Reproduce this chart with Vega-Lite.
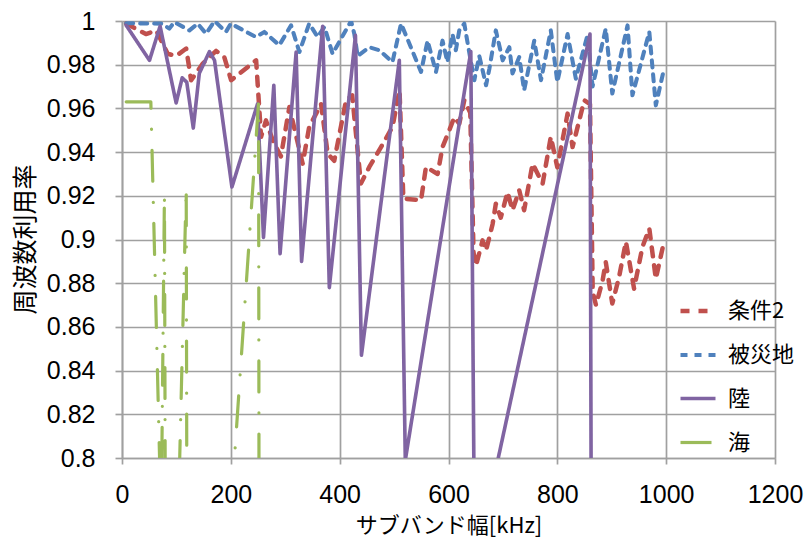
{
  "$schema": "https://vega.github.io/schema/vega-lite/v6.json",
  "width": 653,
  "height": 437,
  "autosize": "none",
  "padding": {"left": 122, "top": 21, "right": 31, "bottom": 87},
  "background": "white",
  "config": {
    "view": {"stroke": null},
    "font": "Liberation Sans Narrow, Liberation Sans, sans-serif"
  },
  "datasets": {
    "d": [
      {"s": "条件2", "i": 1, "x": 7.7, "y": 0.9988},
      {"s": "条件2", "i": 2, "x": 44, "y": 0.994},
      {"s": "条件2", "i": 3, "x": 62.8, "y": 0.9957},
      {"s": "条件2", "i": 4, "x": 84, "y": 0.985},
      {"s": "条件2", "i": 5, "x": 99.5, "y": 0.984},
      {"s": "条件2", "i": 6, "x": 118, "y": 0.9874},
      {"s": "条件2", "i": 7, "x": 127, "y": 0.9729},
      {"s": "条件2", "i": 8, "x": 148.4, "y": 0.9805},
      {"s": "条件2", "i": 9, "x": 173, "y": 0.9863},
      {"s": "条件2", "i": 10, "x": 188, "y": 0.9835},
      {"s": "条件2", "i": 11, "x": 200.5, "y": 0.9729},
      {"s": "条件2", "i": 12, "x": 246.5, "y": 0.982},
      {"s": "条件2", "i": 13, "x": 255.6, "y": 0.947},
      {"s": "条件2", "i": 14, "x": 264.6, "y": 0.9545},
      {"s": "条件2", "i": 15, "x": 277, "y": 0.9454},
      {"s": "条件2", "i": 16, "x": 292, "y": 0.938},
      {"s": "条件2", "i": 17, "x": 307.6, "y": 0.9606},
      {"s": "条件2", "i": 18, "x": 332, "y": 0.9347},
      {"s": "条件2", "i": 19, "x": 344, "y": 0.9515},
      {"s": "条件2", "i": 20, "x": 365.8, "y": 0.962},
      {"s": "条件2", "i": 21, "x": 378, "y": 0.9393},
      {"s": "条件2", "i": 22, "x": 390, "y": 0.936},
      {"s": "条件2", "i": 23, "x": 411.8, "y": 0.9637},
      {"s": "条件2", "i": 24, "x": 423, "y": 0.966},
      {"s": "条件2", "i": 25, "x": 439, "y": 0.9256},
      {"s": "条件2", "i": 26, "x": 454.5, "y": 0.9332},
      {"s": "条件2", "i": 27, "x": 476, "y": 0.9423},
      {"s": "条件2", "i": 28, "x": 497, "y": 0.9515},
      {"s": "条件2", "i": 29, "x": 510, "y": 0.9683},
      {"s": "条件2", "i": 30, "x": 517, "y": 0.9187},
      {"s": "条件2", "i": 31, "x": 549.5, "y": 0.918},
      {"s": "条件2", "i": 32, "x": 558.6, "y": 0.9332},
      {"s": "条件2", "i": 33, "x": 580, "y": 0.93},
      {"s": "条件2", "i": 34, "x": 589, "y": 0.9423},
      {"s": "条件2", "i": 35, "x": 601.5, "y": 0.95},
      {"s": "条件2", "i": 36, "x": 610.7, "y": 0.956},
      {"s": "条件2", "i": 37, "x": 619.8, "y": 0.953},
      {"s": "条件2", "i": 38, "x": 629, "y": 0.9637},
      {"s": "条件2", "i": 39, "x": 640, "y": 0.958},
      {"s": "条件2", "i": 40, "x": 646, "y": 0.894},
      {"s": "条件2", "i": 41, "x": 650.5, "y": 0.888},
      {"s": "条件2", "i": 42, "x": 662.6, "y": 0.8996},
      {"s": "条件2", "i": 43, "x": 669, "y": 0.895},
      {"s": "条件2", "i": 44, "x": 681, "y": 0.907},
      {"s": "条件2", "i": 45, "x": 687, "y": 0.9164},
      {"s": "条件2", "i": 46, "x": 696, "y": 0.91},
      {"s": "条件2", "i": 47, "x": 708.5, "y": 0.9217},
      {"s": "条件2", "i": 48, "x": 717.6, "y": 0.9134},
      {"s": "条件2", "i": 49, "x": 730, "y": 0.9225},
      {"s": "条件2", "i": 50, "x": 739, "y": 0.9134},
      {"s": "条件2", "i": 51, "x": 754.5, "y": 0.9347},
      {"s": "条件2", "i": 52, "x": 773, "y": 0.9256},
      {"s": "条件2", "i": 53, "x": 788, "y": 0.947},
      {"s": "条件2", "i": 54, "x": 800, "y": 0.933},
      {"s": "条件2", "i": 55, "x": 818.8, "y": 0.9576},
      {"s": "条件2", "i": 56, "x": 828, "y": 0.9423},
      {"s": "条件2", "i": 57, "x": 849.5, "y": 0.9637},
      {"s": "条件2", "i": 58, "x": 860, "y": 0.962},
      {"s": "条件2", "i": 59, "x": 865, "y": 0.876},
      {"s": "条件2", "i": 60, "x": 871, "y": 0.87},
      {"s": "条件2", "i": 61, "x": 883, "y": 0.881},
      {"s": "条件2", "i": 62, "x": 889, "y": 0.8897},
      {"s": "条件2", "i": 63, "x": 901, "y": 0.8707},
      {"s": "条件2", "i": 64, "x": 913.5, "y": 0.8829},
      {"s": "条件2", "i": 65, "x": 926, "y": 0.899},
      {"s": "条件2", "i": 66, "x": 941, "y": 0.8775},
      {"s": "条件2", "i": 67, "x": 956.4, "y": 0.8966},
      {"s": "条件2", "i": 68, "x": 969, "y": 0.905},
      {"s": "条件2", "i": 69, "x": 981, "y": 0.882},
      {"s": "条件2", "i": 70, "x": 996, "y": 0.899},

      {"s": "被災地", "i": 1, "x": 7.7, "y": 0.999},
      {"s": "被災地", "i": 2, "x": 74, "y": 0.9988},
      {"s": "被災地", "i": 3, "x": 87, "y": 0.9965},
      {"s": "被災地", "i": 4, "x": 96, "y": 0.9995},
      {"s": "被災地", "i": 5, "x": 124, "y": 0.9957},
      {"s": "被災地", "i": 6, "x": 139, "y": 0.9988},
      {"s": "被災地", "i": 7, "x": 154.6, "y": 0.9942},
      {"s": "被災地", "i": 8, "x": 170, "y": 1.0},
      {"s": "被災地", "i": 9, "x": 191, "y": 0.995},
      {"s": "被災地", "i": 10, "x": 200, "y": 0.9988},
      {"s": "被災地", "i": 11, "x": 246, "y": 0.9927},
      {"s": "被災地", "i": 12, "x": 261.6, "y": 0.995},
      {"s": "被災地", "i": 13, "x": 289, "y": 0.9889},
      {"s": "被災地", "i": 14, "x": 310.7, "y": 0.998},
      {"s": "被災地", "i": 15, "x": 326, "y": 0.9858},
      {"s": "被災地", "i": 16, "x": 344, "y": 0.9988},
      {"s": "被災地", "i": 17, "x": 359.6, "y": 0.9927},
      {"s": "被災地", "i": 18, "x": 372, "y": 0.9973},
      {"s": "被災地", "i": 19, "x": 387, "y": 0.985},
      {"s": "被災地", "i": 20, "x": 421, "y": 1.0},
      {"s": "被災地", "i": 21, "x": 427, "y": 0.994},
      {"s": "被災地", "i": 22, "x": 433, "y": 0.984},
      {"s": "被災地", "i": 23, "x": 454.5, "y": 0.988},
      {"s": "被災地", "i": 24, "x": 473, "y": 0.9866},
      {"s": "被災地", "i": 25, "x": 497, "y": 0.9812},
      {"s": "被災地", "i": 26, "x": 512.8, "y": 0.9988},
      {"s": "被災地", "i": 27, "x": 528, "y": 0.9897},
      {"s": "被災地", "i": 28, "x": 549.5, "y": 0.9767},
      {"s": "被災地", "i": 29, "x": 561.6, "y": 0.991},
      {"s": "被災地", "i": 30, "x": 577, "y": 0.9767},
      {"s": "被災地", "i": 31, "x": 589, "y": 0.991},
      {"s": "被災地", "i": 32, "x": 598, "y": 0.9812},
      {"s": "被災地", "i": 33, "x": 607.5, "y": 0.994},
      {"s": "被災地", "i": 34, "x": 613.5, "y": 0.9866},
      {"s": "被災地", "i": 35, "x": 619.8, "y": 0.9957},
      {"s": "被災地", "i": 36, "x": 629, "y": 0.9988},
      {"s": "被災地", "i": 37, "x": 638, "y": 0.9858},
      {"s": "被災地", "i": 38, "x": 647.4, "y": 0.9729},
      {"s": "被災地", "i": 39, "x": 656.6, "y": 0.984},
      {"s": "被災地", "i": 40, "x": 669, "y": 0.9706},
      {"s": "被災地", "i": 41, "x": 675, "y": 0.978},
      {"s": "被災地", "i": 42, "x": 687, "y": 0.9957},
      {"s": "被災地", "i": 43, "x": 699.5, "y": 0.982},
      {"s": "被災地", "i": 44, "x": 711.8, "y": 0.988},
      {"s": "被災地", "i": 45, "x": 717.6, "y": 0.976},
      {"s": "被災地", "i": 46, "x": 730, "y": 0.9835},
      {"s": "被災地", "i": 47, "x": 739, "y": 0.9683},
      {"s": "被災地", "i": 48, "x": 757.6, "y": 0.991},
      {"s": "被災地", "i": 49, "x": 770, "y": 0.9729},
      {"s": "被災地", "i": 50, "x": 788, "y": 0.9957},
      {"s": "被災地", "i": 51, "x": 800, "y": 0.972},
      {"s": "被災地", "i": 52, "x": 818.8, "y": 0.994},
      {"s": "被災地", "i": 53, "x": 834, "y": 0.9736},
      {"s": "被災地", "i": 54, "x": 855.4, "y": 0.9935},
      {"s": "被災地", "i": 55, "x": 864.7, "y": 0.97},
      {"s": "被災地", "i": 56, "x": 889, "y": 0.9965},
      {"s": "被災地", "i": 57, "x": 901, "y": 0.9668},
      {"s": "被災地", "i": 58, "x": 929, "y": 0.998},
      {"s": "被災地", "i": 59, "x": 938, "y": 0.966},
      {"s": "被災地", "i": 60, "x": 969, "y": 0.995},
      {"s": "被災地", "i": 61, "x": 981, "y": 0.9614},
      {"s": "被災地", "i": 62, "x": 996, "y": 0.978},

      {"s": "陸", "i": 1, "x": 7.7, "y": 0.998},
      {"s": "陸", "i": 2, "x": 50.5, "y": 0.982},
      {"s": "陸", "i": 3, "x": 70, "y": 0.9976},
      {"s": "陸", "i": 4, "x": 99.5, "y": 0.9625},
      {"s": "陸", "i": 5, "x": 110.6, "y": 0.974},
      {"s": "陸", "i": 6, "x": 119, "y": 0.972},
      {"s": "陸", "i": 7, "x": 131, "y": 0.951},
      {"s": "陸", "i": 8, "x": 142, "y": 0.976},
      {"s": "陸", "i": 9, "x": 160.7, "y": 0.986},
      {"s": "陸", "i": 10, "x": 170, "y": 0.982},
      {"s": "陸", "i": 11, "x": 202, "y": 0.924},
      {"s": "陸", "i": 12, "x": 249, "y": 0.962},
      {"s": "陸", "i": 13, "x": 260, "y": 0.901},
      {"s": "陸", "i": 14, "x": 279, "y": 0.9706},
      {"s": "陸", "i": 15, "x": 290.5, "y": 0.8935},
      {"s": "陸", "i": 16, "x": 320, "y": 0.9858},
      {"s": "陸", "i": 17, "x": 330, "y": 0.89},
      {"s": "陸", "i": 18, "x": 368.8, "y": 0.9976},
      {"s": "陸", "i": 19, "x": 381, "y": 0.878},
      {"s": "陸", "i": 20, "x": 429, "y": 0.9934},
      {"s": "陸", "i": 21, "x": 440, "y": 0.847},
      {"s": "陸", "i": 22, "x": 509.6, "y": 0.982},
      {"s": "陸", "i": 23, "x": 520.6, "y": 0.799},
      {"s": "陸", "i": 24, "x": 641, "y": 0.986},
      {"s": "陸", "i": 25, "x": 648, "y": 0.75},
      {"s": "陸", "i": 26, "x": 860, "y": 0.994},
      {"s": "陸", "i": 27, "x": 863, "y": 0.7},

      {"s": "海", "i": 1, "x": 7.7, "y": 0.963},
      {"s": "海", "i": 2, "x": 53, "y": 0.963},
      {"s": "海", "i": 3, "x": 72, "y": 0.77},
      {"s": "海", "i": 4, "x": 78, "y": 0.921},
      {"s": "海", "i": 5, "x": 82, "y": 0.55},
      {"s": "海", "i": 6, "x": 118, "y": 0.924},
      {"s": "海", "i": 7, "x": 121, "y": 0.55},
      {"s": "海", "i": 8, "x": 195, "y": 0.757},
      {"s": "海", "i": 9, "x": 251, "y": 0.963},
      {"s": "海", "i": 10, "x": 253, "y": 0.5}
    ]
  },
  "data": {"name": "d"},
  "encoding": {
    "x": {
      "field": "x", "type": "quantitative",
      "scale": {"domain": [0, 1200], "nice": false, "zero": false},
      "axis": {
        "values": [0, 200, 400, 600, 800, 1000, 1200],
        "format": "d",
        "title": "サブバンド幅[kHz]",
        "titleFont": "Noto Sans CJK JP",
        "titleFontSize": 22,
        "titleFontWeight": "normal",
        "titleColor": "#000000",
        "titleX": 326.5,
        "titleY": 67,
        "titleBaseline": "middle",
        "titleAlign": "center",
        "labelFontSize": 25,
        "labelColor": "#000000",
        "labelBaseline": "middle",
        "labelPadding": 30,
        "tickSize": 6,
        "tickColor": "#A0A0A0",
        "tickWidth": 1.7,
        "domainColor": "#A0A0A0",
        "domainWidth": 1.7,
        "gridColor": "#A0A0A0",
        "gridWidth": 1.7,
        "labelFlush": false,
        "labelOverlap": false
      }
    },
    "y": {
      "field": "y", "type": "quantitative",
      "scale": {"domain": [0.8, 1], "nice": false, "zero": false},
      "axis": {
        "values": [0.8, 0.82, 0.84, 0.86, 0.88, 0.9, 0.92, 0.94, 0.96, 0.98, 1],
        "format": ".2~f",
        "title": "周波数利用率",
        "titleFont": "Noto Sans CJK JP",
        "titleFontSize": 25,
        "titleFontWeight": "normal",
        "titleColor": "#000000",
        "titleAngle": -90,
        "titleX": -97,
        "titleY": 218,
        "titleAlign": "center",
        "titleBaseline": "middle",
        "labelFontSize": 25,
        "labelColor": "#000000",
        "labelPadding": 20,
        "tickSize": 7,
        "tickColor": "#A0A0A0",
        "tickWidth": 1.7,
        "domainColor": "#A0A0A0",
        "domainWidth": 1.7,
        "gridColor": "#A0A0A0",
        "gridWidth": 1.7,
        "labelFlush": false,
        "labelOverlap": false
      }
    },
    "color": {
      "field": "s", "type": "nominal",
      "scale": {"domain": ["条件2", "被災地", "陸", "海"], "range": ["#C0504D", "#4F81BD", "#8064A2", "#9BBB59"]},
      "legend": {
        "orient": "none",
        "legendX": 556,
        "legendY": 270,
        "title": null,
        "symbolType": "stroke",
        "symbolSize": 1225,
        "symbolStrokeWidth": 3.5,
        "labelFont": "Noto Sans CJK JP",
        "labelFontSize": 22,
        "labelColor": "#000000",
        "labelOffset": 10,
        "rowPadding": 13
      }
    },
    "strokeDash": {
      "field": "s", "type": "nominal",
      "scale": {"domain": ["条件2", "被災地", "陸", "海"], "range": [[9, 9], [7, 7], [1, 0], [31, 21, 0.1, 21]]},
      "legend": null
    },
    "strokeWidth": {
      "field": "s", "type": "nominal",
      "scale": {"domain": ["条件2", "被災地", "陸", "海"], "range": [4.5, 3.2, 3.2, 4.5]},
      "legend": null
    },
    "order": {"field": "i", "type": "quantitative"}
  },
  "layer": [
    {"transform": [{"filter": "datum.s === '条件2'"}], "mark": {"type": "line", "clip": true, "strokeCap": "round", "strokeJoin": "round"}},
    {"transform": [{"filter": "datum.s === '被災地'"}], "mark": {"type": "line", "clip": true, "strokeCap": "round", "strokeJoin": "round"}},
    {"transform": [{"filter": "datum.s === '陸'"}], "mark": {"type": "line", "clip": true, "strokeCap": "round", "strokeJoin": "round"}},
    {"transform": [{"filter": "datum.s === '海'"}], "mark": {"type": "line", "clip": true, "strokeCap": "round", "strokeJoin": "round"}}
  ]
}
